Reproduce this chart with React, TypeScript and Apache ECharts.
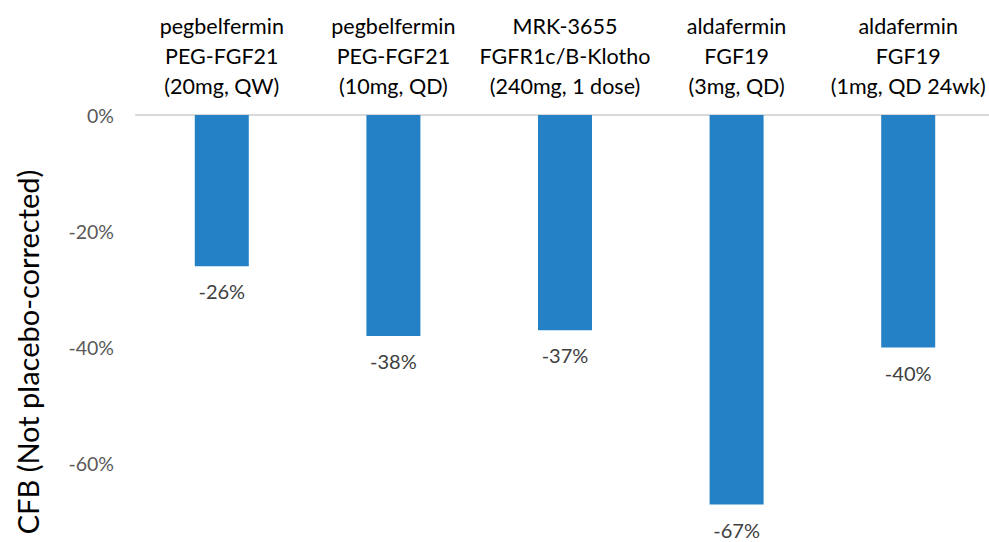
import React, { useEffect, useRef } from "react";
import * as echarts from "echarts";

const categories = [
  "pegbelfermin\nPEG-FGF21\n(20mg, QW)",
  "pegbelfermin\nPEG-FGF21\n(10mg, QD)",
  "MRK-3655\nFGFR1c/B-Klotho\n(240mg, 1 dose)",
  "aldafermin\nFGF19\n(3mg, QD)",
  "aldafermin\nFGF19\n(1mg, QD 24wk)",
];
const values = [-26, -38, -37, -67, -40];
const yTitle = "CFB (Not placebo-corrected)";

const FONT = "Lato, 'Open Sans', sans-serif";

export default function App() {
  const ref = useRef<HTMLDivElement>(null);
  useEffect(() => {
    if (!ref.current) return;
    const chart = echarts.init(ref.current, undefined, { renderer: "svg" });
    chart.setOption({
      animation: false,
      backgroundColor: "#ffffff",
      textStyle: { fontFamily: FONT },
      grid: { left: 136, right: 6, top: 115, bottom: 20, containLabel: false },
      xAxis: {
        type: "category",
        position: "top",
        data: categories,
        axisLine: { show: true, lineStyle: { color: "#d9d9d9", width: 2 } },
        axisTick: { show: false },
        axisLabel: {
          color: "#000000",
          fontSize: 21.5,
          lineHeight: 30,
          margin: 14,
          fontFamily: FONT,
          interval: 0,
        },
      },
      yAxis: {
        type: "value",
        min: -70,
        max: 0,
        interval: 10,
        axisLine: { show: false },
        axisTick: { show: false },
        splitLine: { show: false },
        axisLabel: {
          color: "#595959",
          fontSize: 19.5,
          margin: 22,
          fontFamily: FONT,
          formatter: (v: number) => (Math.round(v) % 20 === 0 ? `${v}%` : ""),
        },
      },
      graphic: [
        {
          type: "text",
          x: 27,
          y: 352,
          rotation: Math.PI / 2,
          style: {
            text: yTitle,
            fontSize: 29,
            fontFamily: FONT,
            fill: "#000000",
            align: "center",
            verticalAlign: "middle",
          },
        },
      ],
      series: [
        {
          type: "bar",
          data: values,
          barWidth: 54,
          itemStyle: { color: "#2581c6" },
          label: {
            show: true,
            position: "bottom",
            distance: 15,
            color: "#404040",
            fontSize: 20,
            lineHeight: 20,
            fontFamily: FONT,
            formatter: (p: any) => `${p.value}%`,
          },
        },
      ],
    });
    return () => chart.dispose();
  }, []);
  return (
    <div
      style={{
        position: "fixed",
        left: 0,
        top: 0,
        width: 989,
        height: 542,
        overflow: "hidden",
        background: "#fff",
      }}
    >
      <div ref={ref} style={{ width: 1000, height: 542 }} />
    </div>
  );
}
